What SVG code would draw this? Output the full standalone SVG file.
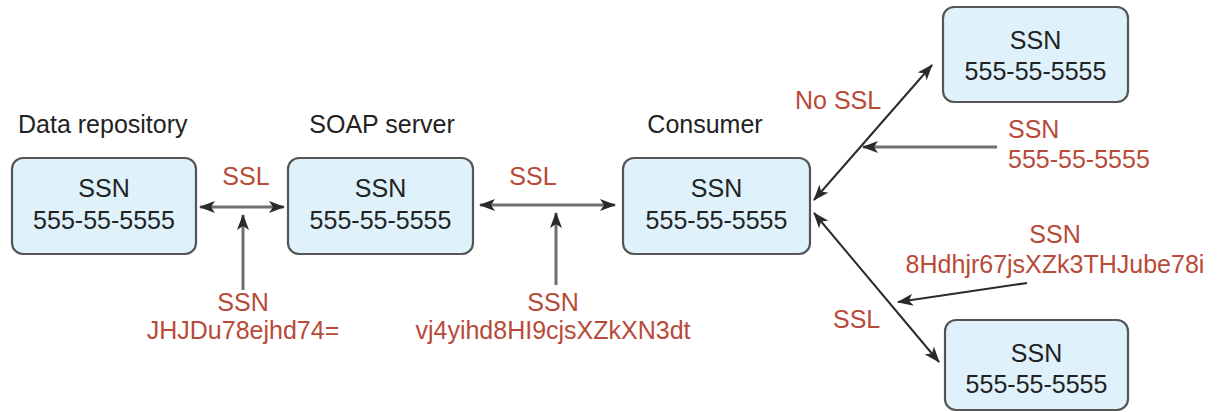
<svg xmlns="http://www.w3.org/2000/svg" width="1218" height="412" viewBox="0 0 1218 412">
  <style>
    .box { fill: #dff1fb; stroke: #555; stroke-width: 2.2; }
    .t { font-family: "Liberation Sans", Arial, sans-serif; font-size: 25px; fill: #222; }
    .c { text-anchor: middle; }
    .r { fill: #b84a38; }
    .h { stroke: #6f6f6f; stroke-width: 3; fill: none; }
    .d { stroke: #2a2a2a; stroke-width: 2; fill: none; }
  </style>
  <defs>
    <marker id="ah" viewBox="0 0 16 12" refX="15" refY="6" markerWidth="16" markerHeight="12" markerUnits="userSpaceOnUse" orient="auto-start-reverse">
      <path d="M0,0 L16,6 L0,12 L4,6 z" fill="#2a2a2a"/>
    </marker>
  </defs>

  <rect width="1218" height="412" fill="#ffffff"/>

  <!-- column titles -->
  <g id="titles">
    <text class="t" x="18" y="133">Data repository</text>
    <text class="t c" x="382" y="133">SOAP server</text>
    <text class="t c" x="705" y="133">Consumer</text>
  </g>

  <g id="repository">
    <rect class="box" x="12" y="158" width="184" height="96" rx="11"/>
    <text class="t c" x="104" y="197">SSN</text>
    <text class="t c" x="104" y="229">555-55-5555</text>
  </g>

  <g id="soap-server">
    <rect class="box" x="288" y="158" width="185" height="96" rx="11"/>
    <text class="t c" x="380.5" y="197">SSN</text>
    <text class="t c" x="380.5" y="229">555-55-5555</text>
  </g>

  <g id="consumer">
    <rect class="box" x="623" y="158" width="187" height="96" rx="11"/>
    <text class="t c" x="716.5" y="197">SSN</text>
    <text class="t c" x="716.5" y="229">555-55-5555</text>
  </g>

  <g id="client-top">
    <rect class="box" x="943" y="7" width="185" height="95" rx="11"/>
    <text class="t c" x="1035.5" y="49">SSN</text>
    <text class="t c" x="1035.5" y="80">555-55-5555</text>
  </g>

  <g id="client-bottom">
    <rect class="box" x="945" y="320" width="183" height="90" rx="11"/>
    <text class="t c" x="1036.5" y="362">SSN</text>
    <text class="t c" x="1036.5" y="393">555-55-5555</text>
  </g>

  <g id="connectors">
    <line class="h" x1="200" y1="207" x2="284" y2="207" marker-start="url(#ah)" marker-end="url(#ah)"/>
    <line class="h" x1="243" y1="290" x2="243" y2="215" marker-end="url(#ah)"/>
    <line class="h" x1="480" y1="205" x2="615" y2="205" marker-start="url(#ah)" marker-end="url(#ah)"/>
    <line class="h" x1="556" y1="285" x2="556" y2="213" marker-end="url(#ah)"/>
    <line class="d" x1="814" y1="200" x2="932" y2="65" marker-start="url(#ah)" marker-end="url(#ah)"/>
    <line class="h" x1="997" y1="147" x2="863" y2="147" marker-end="url(#ah)"/>
    <line class="d" x1="814" y1="213" x2="939" y2="362" marker-start="url(#ah)" marker-end="url(#ah)"/>
    <line class="d" x1="1027" y1="283" x2="898" y2="302" marker-end="url(#ah)"/>
  </g>

  <!-- link and payload labels -->
  <g id="labels">
    <text class="t r c" x="246" y="185">SSL</text>
    <text class="t r c" x="243" y="311">SSN</text>
    <text class="t r c" x="243" y="339">JHJDu78ejhd74=</text>
    <text class="t r c" x="533" y="185">SSL</text>
    <text class="t r c" x="553" y="311">SSN</text>
    <text class="t r c" x="553" y="339">vj4yihd8HI9cjsXZkXN3dt</text>
    <text class="t r" x="795" y="109">No SSL</text>
    <text class="t r" x="1008" y="138">SSN</text>
    <text class="t r" x="1008" y="168">555-55-5555</text>
    <text class="t r c" x="1055" y="243">SSN</text>
    <text class="t r c" x="1055" y="273">8Hdhjr67jsXZk3THJube78i</text>
    <text class="t r" x="833" y="328">SSL</text>
  </g>
</svg>
